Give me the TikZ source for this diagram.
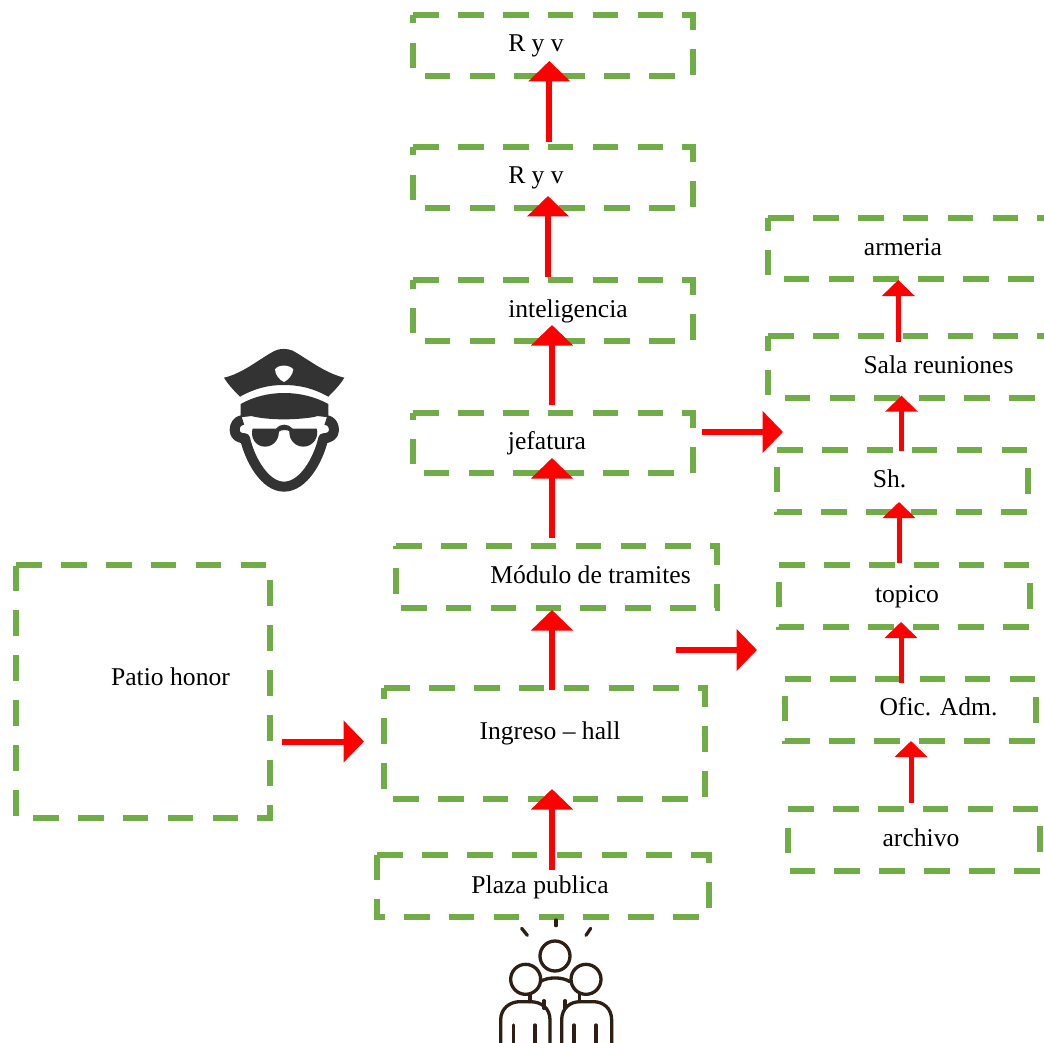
\documentclass[tikz,border=0pt]{standalone}
\usepackage{fontspec}
\setmainfont{Liberation Serif}
\usetikzlibrary{arrows.meta,calc}
\definecolor{boxgreen}{HTML}{70AD47}
\definecolor{iconbrown}{HTML}{2E1E14}
\definecolor{icondark}{HTML}{333333}
\tikzset{
  room/.style={minimum width=#1,inner sep=0pt,outer sep=0pt},
  roomline/.style={draw=boxgreen,line width=6pt,dash pattern=on 25.7pt off 19.2pt,line join=miter},
  lab/.style={font=\fontsize{25.6pt}{28pt}\selectfont,text=black,inner sep=0pt,anchor=base},
  flow/.style={draw=red,line width=6pt,-{Triangle[length=20.5pt,width=41pt]}},
  flowsmall/.style={draw=red,line width=5pt,-{Triangle[length=16pt,width=32pt]}},
  police/.style={fill=icondark,draw=none},
  policeline/.style={draw=icondark,line width=10pt,line join=round},
  people/.style={draw=iconbrown,line width=3.3pt,line cap=round,fill=none}
}
\newcommand{\room}[5]{%
  \path let \n1={#4-#2},\n2={#5-#3} in node[room=\n1 pt,minimum height=\n2 pt] (#1) at ({(#2+#4)/2},{(#3+#5)/2}) {};
  \draw[roomline] (#1.north west) -- (#1.north east) -- (#1.south east) -- (#1.south west) -- cycle;}
\begin{document}
\begin{tikzpicture}[x=1pt,y=-1pt]
\useasboundingbox (0,0) rectangle (1044,1043);
\clip (0,0) rectangle (1044,1043);
\fill[white] (0,0) rectangle (1044,1043);
% rooms
\room{r1}{413}{15}{693}{76}
\room{r2}{413}{147}{693}{208}
\room{intel}{413}{280}{693}{341}
\room{jef}{413}{413}{693}{473}
\room{modulo}{396}{546}{717}{608}
\room{ingreso}{384}{688}{705}{799}
\room{plaza}{377}{855}{709}{917}
\room{patio}{16}{565}{270}{818}
\room{armeria}{768}{218}{1050}{279}
\room{sala}{768}{336}{1050}{398}
\room{sh}{777}{450}{1028}{512}
\room{topico}{779}{565}{1030}{627}
\room{ofic}{785}{679}{1036}{741}
\room{archivo}{788}{809}{1040}{871}
% labels
\node[lab] (t1) at (536,52) {R y v};
\node[lab] (t2) at (536,184) {R y v};
\node[lab] (t3) at (568,317) {inteligencia};
\node[lab] (t4) at (547,449) {jefatura};
\node[lab] (t5) at (590.5,583) {Módulo de tramites};
\node[lab] (t6) at (550,739) {Ingreso – hall};
\node[lab] (t7) at (540,893) {Plaza publica};
\node[lab] (t8) at (170.5,685) {Patio honor};
\node[lab] (t9) at (903,255) {armeria};
\node[lab] (t10) at (938.5,373.5) {Sala reuniones};
\node[lab] (t11) at (889.5,487) {Sh.};
\node[lab] (t12) at (907,602) {topico};
\node[lab] (t13) at (938.5,715) {Ofic. Adm.};
\node[lab] (t14) at (921,846) {archivo};
% arrows
\draw[flow] ([xshift=-3.7pt,yshift=5pt]r2.north) -- ([xshift=-3.7pt,yshift=15pt]r1.south);
\draw[flow] ([xshift=-5pt,yshift=3pt]intel.north) -- ([xshift=-5pt,yshift=12pt]r2.south);
\draw[flow] ([xshift=-1pt,yshift=8pt]jef.north) -- ([xshift=-1pt,yshift=16pt]intel.south);
\draw[flow] ([xshift=-4.5pt,yshift=8pt]modulo.north) -- ([xshift=-1pt,yshift=15pt]jef.south);
\draw[flow] ([xshift=7.5pt,yshift=-2pt]ingreso.north) -- ([xshift=-4.5pt,yshift=-2pt]modulo.south);
\draw[flow] ([xshift=9pt,yshift=-15pt]plaza.north) -- ([xshift=7.5pt,yshift=10pt]ingreso.south);
\draw[flow] ([xshift=12pt,yshift=-50pt]patio.east) -- ([xshift=-20pt,yshift=2pt]ingreso.west);
\draw[flow] ([xshift=119.5pt,yshift=-42pt]modulo.south) -- ([xshift=-22pt,yshift=-54pt]topico.west);
\draw[flow] ([xshift=9pt,yshift=11pt]jef.east) -- ([xshift=6pt,yshift=49pt]sh.west);
\draw[flowsmall] ([xshift=-3pt,yshift=6pt]archivo.north) -- ([xshift=.5pt,yshift=0pt]ofic.south);
\draw[flowsmall] ([xshift=-9.5pt,yshift=-4pt]ofic.north) -- ([xshift=-3.5pt,yshift=5pt]topico.south);
\draw[flowsmall] ([xshift=-5.5pt,yshift=2pt]topico.north) -- ([xshift=-3.5pt,yshift=10pt]sh.south);
\draw[flowsmall] ([xshift=-1pt,yshift=-1pt]sh.north) -- ([xshift=-7.5pt,yshift=2.3pt]sala.south);
\draw[flowsmall] ([xshift=-10.7pt,yshift=-6pt]sala.north) -- ([xshift=-10.7pt,yshift=-1pt]armeria.south);
% police icon
\begin{scope}[shift={(200,330)},x=1pt/3,y=-1pt/3]
\path[police] (72,143) .. controls (130,130) and (180,85) .. (225,62) .. controls (240,55) and (262,55) .. (278,62) .. controls (320,85) and (375,130) .. (433,143) .. controls (420,165) and (400,185) .. (385,200) .. controls (340,175) and (300,165) .. (250,165) .. controls (205,165) and (165,175) .. (120,200) .. controls (105,185) and (85,165) .. (72,143) -- cycle;
\path[fill=white] (225,118) .. controls (235,103) and (268,103) .. (280,118) .. controls (278,135) and (265,150) .. (252,156) .. controls (238,150) and (226,135) .. (225,118) -- cycle;
\path[police] (122,222) .. controls (200,178) and (305,178) .. (385,222) -- (385,262) -- (352,258) .. controls (345,262) and (300,268) .. (250,268) .. controls (205,268) and (165,262) .. (155,258) -- (122,262) -- cycle;
\draw[policeline] (128,270) .. controls (112,272) and (104,285) .. (104,300) .. controls (104,316) and (116,325) .. (135,325) .. controls (150,390) and (195,470) .. (252,470) .. controls (310,470) and (355,390) .. (370,325) .. controls (388,325) and (402,316) .. (402,300) .. controls (402,285) and (394,272) .. (378,270);
\path[police] (158,296) -- (235,296) .. controls (242,320) and (225,350) .. (195,350) .. controls (165,350) and (150,320) .. (158,296) -- cycle;
\path[police] (270,296) -- (350,296) .. controls (358,320) and (340,350) .. (310,350) .. controls (280,350) and (262,320) .. (270,296) -- cycle;
\path[police] (228,296) .. controls (240,280) and (265,280) .. (278,296) -- (272,306) .. controls (262,298) and (245,298) .. (235,306) -- cycle;
\end{scope}
% people icon
\begin{scope}[shift={(470,910)},x=1pt/3,y=-1pt/3]
\draw[people] (255,138) circle[radius=15pt];
\draw[people] (167,208) circle[radius=15pt];
\draw[people] (348,208) circle[radius=15pt];
\draw[people] (210,215) .. controls (235,200) and (275,200) .. (300,215);
\draw[people] (92,405) -- (92,330) .. controls (92,295) and (120,275) .. (150,275) -- (180,275) .. controls (215,275) and (240,295) .. (240,330) -- (240,405);
\draw[people] (275,405) -- (275,330) .. controls (275,295) and (300,275) .. (330,275) -- (370,275) .. controls (400,275) and (425,295) .. (425,330) -- (425,405);
\draw[people] (130,345) -- (130,405);
\draw[people] (195,345) -- (195,405);
\draw[people] (312,345) -- (312,405);
\draw[people] (378,345) -- (378,405);
\draw[people] (180,253) -- (180,275);
\draw[people] (328,253) -- (328,275);
\draw[people] (222,272) -- (222,295);
\draw[people] (285,272) -- (285,295);
\draw[people] (155,55) -- (172,76);
\draw[people] (258,30) -- (258,47);
\draw[people] (362,55) -- (348,76);
\end{scope}
\end{tikzpicture}
\end{document}
